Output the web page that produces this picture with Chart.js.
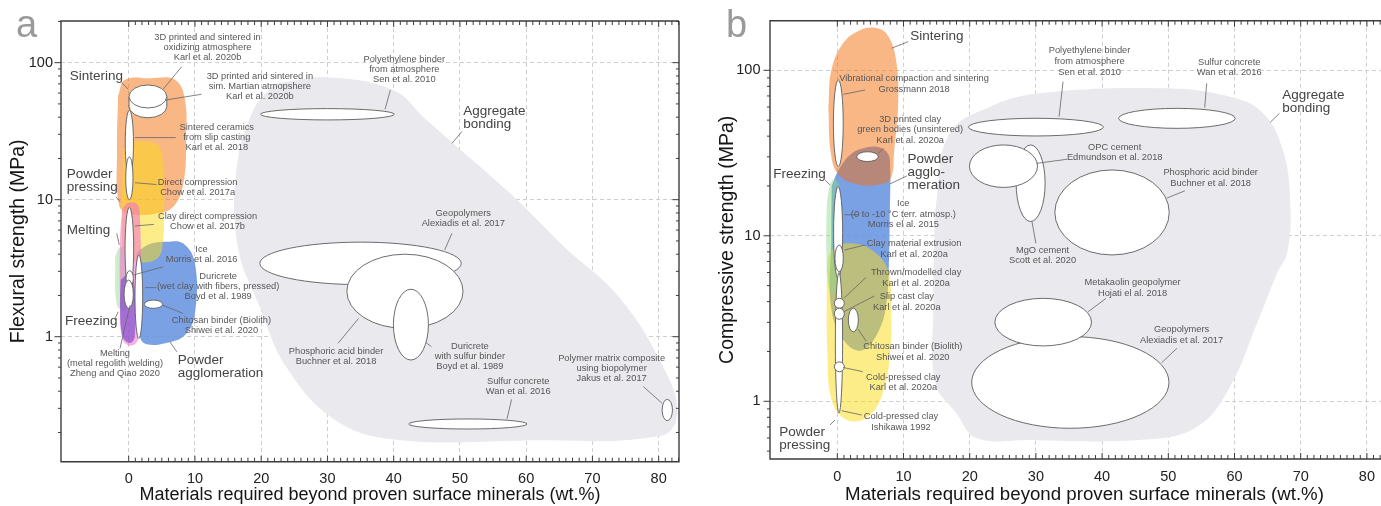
<!DOCTYPE html>
<html>
<head>
<meta charset="utf-8">
<script src="https://cdn.jsdelivr.net/npm/chart.js@4.4.1/dist/chart.umd.min.js"></script>
<style>
  html, body { margin: 0; padding: 0; background: #fff; overflow: hidden; }
  #wrap { position: relative; width: 1381px; height: 506px; overflow: hidden; }
  .box { position: absolute; top: 0; height: 506px; }
  #boxA { left: 0; width: 690px; }
  #boxB { left: 690px; width: 709px; }
  .letter { position: absolute; font-family: "Liberation Sans", Arial, sans-serif; font-size: 38px; line-height: 38px; color: #9a9a9a; }
</style>
</head>
<body>
<div id="wrap">
  <div class="box" id="boxA"><canvas id="chartA"></canvas></div>
  <div class="box" id="boxB"><canvas id="chartB"></canvas></div>
  <div class="letter" style="left:16px;top:5px">a</div>
  <div class="letter" style="left:726px;top:5px">b</div>
</div>
<script>
// 两个面板：(a) 弯曲强度, (b) 抗压强度
const FONT = '"Liberation Sans", Arial, Helvetica, sans-serif';
Chart.defaults.font.family = FONT;
const H = 506;

// 轴刻度
const X_TICKS = [0, 10, 20, 30, 40, 50, 60, 70, 80];
const Y_TICKS = [1, 10, 100];
const X_TITLE = 'Materials required beyond proven surface minerals (wt.%)';

// ---------- (a) 区域轮廓 [wt.%, MPa]
const aAggregate = [[22,70],[30,78],[40,63],[44.5,40],[48.5,27],[58.6,10],[65.6,4.6],[74,1.95],[80.7,0.6],[82.8,0.28],[80.5,0.19],[60,0.175],[40,0.178],[31,0.25],[23.8,0.6],[19.8,1.65],[16.5,4.5],[16.3,17],[18.8,45]];
const aSintering = [[-1.6,57.5],[-0.56,75],[3.2,77],[7,75],[8.5,53.4],[8.65,27],[8.35,14],[7,9.2],[4.7,8.0],[0.2,7.9],[-1.45,9.1],[-1.77,23]];
const aFreezing = [[-2.05,3.82],[-1.3,4.5],[-0.1,4.3],[0.2,2.19],[-0.56,1.57],[-1.77,1.7]];
const aAgglomeration = [[1.2,4.0],[1.7,4.3],[3.5,4.8],[5.7,4.94],[8.2,4.8],[10.0,3.43],[10.0,1.48],[8.5,1.03],[5.7,0.9],[2.7,0.88],[1.7,1.0],[1.2,1.8]];
const aPressing = [[-0.85,23],[0.2,26],[3.2,26.5],[4.7,24],[5.2,16.6],[5.3,8.4],[5.2,5.1],[4.4,3.75],[1.7,3.5],[-0.55,3.95],[-1.0,7.1]];
const aMelting = [[-1.0,8.4],[-0.25,9.4],[1.25,9.3],[1.7,7.7],[1.8,1.85],[1.4,0.95],[0.2,0.86],[-1.0,0.98],[-1.3,1.85],[-1.3,5.1]];
const aWelding = [[-1.2,2.6],[0.2,2.9],[0.9,2.2],[0.9,1.0],[0.2,0.9],[-0.9,1.0],[-1.3,1.6]];

// (a) 椭圆 [中心 wt.%, 半宽 wt.%, 下限 MPa, 上限 MPa]
const aEllipses = [
  [30.0, 10.1, 38.2, 46.2],   // polyethylene binder
  [35.0, 15.2, 2.4, 4.9],     // geopolymers
  [41.7, 8.77, 1.15, 4.0],    // phosphoric acid binder
  [42.6, 2.64, 0.676, 2.22],  // duricrete, sulfur binder
  [51.2, 8.93, 0.212, 0.251], // sulfur concrete
  [81.3, 0.78, 0.244, 0.349], // polymer matrix composite
  [0.1, 0.62, 14.9, 45],      // sintered ceramics
  [0.1, 0.55, 10, 20.5],      // direct compression
  [0.1, 0.65, 2.19, 8.8],     // clay direct compression
  [1.53, 0.58, 0.97, 3.95],   // duricrete wet clay
  [0.15, 0.55, 2.32, 3.03],   // ice
  [0.0, 0.7, 1.61, 2.59],     // metal regolith welding
  [3.74, 1.39, 1.61, 1.85]    // chitosan binder
];
const aDisk = [2.9, 2.85, 46.7, 68.7, 39.6]; // sintered disks (centre, half-width, low, high, rim bottom)

// (a) 注释 [行, wt.%, MPa]
const aNotes = [
  [['3D printed and sintered in','oxidizing atmosphere','Karl et al. 2020b'], 11.9, 152],
  [['3D printed and sintered in','sim. Martian atmopshere','Karl et al. 2020b'], 19.8, 79],
  [['Sintered ceramics','from slip casting','Karl et al. 2018'], 13.3, 33.6],
  [['Direct compression','Chow et al. 2017a'], 10.4, 13.3],
  [['Clay direct compression','Chow et al. 2017b'], 11.9, 7.5],
  [['Ice','Morris et al. 2016'], 11.0, 4.35],
  [['Duricrete','(wet clay with fibers, pressed)','Boyd et al. 1989'], 13.5, 2.74],
  [['Chitosan binder (Biolith)','Shiwei et al. 2020'], 14.0, 1.32],
  [['Melting','(metal regolith welding)','Zheng and Qiao 2020'], -2.07, 0.757],
  [['Polyethylene binder','from atmosphere','Sen et al. 2010'], 41.6, 106],
  [['Geopolymers','Alexiadis et al. 2017'], 50.5, 7.96],
  [['Phosphoric acid binder','Buchner et al. 2018'], 31.3, 0.787],
  [['Duricrete','with sulfur binder','Boyd et al. 1989'], 51.5, 0.845],
  [['Sulfur concrete','Wan et al. 2016'], 58.8, 0.47],
  [['Polymer matrix composite','using biopolymer','Jakus et al. 2017'], 72.9, 0.695]
];
const aNames = [
  [['Sintering'], -8.9, 80],
  [['Powder','pressing'], -9.36, 15.4],
  [['Melting'], -9.36, 6.0],
  [['Freezing'], -9.6, 1.29],
  [['Powder','agglomeration'], 7.4, 0.676],
  [['Aggregate','bonding'], 50.5, 44.4]
];
const aLeaders = [
  [8.0,93.5,5.2,64],[11.0,58.8,5.6,53.4],[-1.06,71.5,-0.06,64],[7.1,28.4,0.95,28.4],
  [-1.92,10.5,-1.31,9.67],[4.2,12.9,0.95,13.3],[3.8,6.6,0.95,6.43],[-1.81,5.69,-1.42,4.67],
  [5.2,3.24,0.7,2.82],[4.2,2.28,2.46,2.28],[8.2,1.48,5.1,1.70],[-2.07,1.36,-1.57,1.52],
  [-1.31,0.823,0.2,1.70],[7.25,0.777,6.2,0.92],[39.5,63.2,38.7,45.7],[50.3,31.4,48.8,25.8],
  [48.8,5.69,47.7,4.3],[31.6,0.895,34.7,1.36],[45.7,0.845,44.9,0.904],[57.8,0.349,57.1,0.251],
  [77.7,0.432,80.5,0.327]
];

// ---------- (b) 区域轮廓
const bAggregate = [[14.5,4.1],[14.6,8],[15.0,16.5],[17.0,41.8],[23.1,60.3],[30.6,72.6],[49.2,77.8],[59.3,69.3],[64.3,55.2],[67.3,33],[68.4,16.5],[68.0,8],[66.4,5.9],[63.4,2.96],[59.3,1.22],[54.3,0.70],[46,0.585],[29,0.584],[21,0.6],[18,0.846],[14.8,1.29]];
const bAgglomeration = [[-0.85,20],[0.2,25],[2,31],[3.9,33.8],[6,34.5],[7.5,32],[7.96,28],[7.9,12],[7.8,7],[7.5,4.2],[6.5,2.8],[4,2.05],[1.5,2.2],[-0.85,3.5],[-0.9,10]];
const bSintering = [[-1.35,60],[-0.9,100],[0.9,146],[3.5,175],[5.8,180],[7.5,165],[8.8,120],[9.2,66],[8.6,33],[8.0,22],[6,20.3],[3,20.5],[0.15,23.5],[-1.0,32]];
const bPressing = [[-1.6,5],[-1.5,2],[-0.8,1.0],[1.5,0.77],[4.5,0.8],[6.8,1.1],[8,2.0],[8.1,4],[7.6,6.3],[5,8.3],[2,9],[0,8.7],[-1.3,7.5]];
const bFreezing = [[-1.6,6],[-1.65,12],[-1.3,19],[-0.5,22],[0.3,20],[0.4,10],[0,5],[-1,4.5]];

const bEllipses = [
  [30.0, 10.2, 40.1, 51.3],   // polyethylene binder
  [51.3, 8.81, 44.6, 58.9],   // sulfur concrete
  [29.2, 2.19, 12.2, 35.4],   // MgO cement
  [25.1, 5.14, 19.6, 35.4],   // OPC cement
  [41.5, 8.64, 7.66, 25],     // phosphoric acid binder
  [35.2, 14.9, 0.687, 2.46],  // geopolymers
  [31.1, 7.3, 2.16, 4.19],    // metakaolin geopolymer
  [0.15, 0.74, 26.2, 87.4],   // vibrational compaction
  [4.56, 1.63, 28.1, 32.2],   // 3D printed green bodies
  [0.12, 0.68, 5.5, 19.8],    // ice
  [0.25, 0.55, 0.85, 6],      // cold-pressed (Ishikawa)
  [0.27, 0.63, 6.07, 8.8],    // clay extrusion
  [0.3, 0.75, 3.65, 4.19],    // thrown/modelled
  [0.3, 0.75, 3.13, 3.65],    // slip cast
  [2.42, 0.76, 2.63, 3.65],   // chitosan binder
  [0.3, 0.75, 1.51, 1.73]     // cold-pressed (Karl)
];

const bNotes = [
  [['Vibrational compaction and sintering','Grossmann 2018'], 11.6, 89.5],
  [['3D printed clay','green bodies (unsintered)','Karl et al. 2020a'], 11.0, 50.8],
  [['Ice','(0 to -10 °C terr. atmosp.)','Morris el al. 2015'], 9.97, 15.7],
  [['Clay material extrusion','Karl et al. 2020a'], 11.6, 9.0],
  [['Thrown/modelled clay','Karl et al. 2020a'], 11.9, 6.02],
  [['Slip cast clay','Karl et al. 2020a'], 10.5, 4.29],
  [['Chitosan binder (Biolith)','Shiwei et al. 2020'], 11.4, 2.14],
  [['Cold-pressed clay','Karl et al. 2020a'], 9.97, 1.40],
  [['Cold-pressed clay','Ishikawa 1992'], 9.62, 0.807],
  [['Polyethylene binder','from atmosphere','Sen et al. 2010'], 38.1, 131],
  [['Sulfur concrete','Wan et al. 2016'], 59.2, 112],
  [['OPC cement','Edmundson et al. 2018'], 41.9, 34.3],
  [['Phosphoric acid binder','Buchner et al. 2018'], 56.4, 24.1],
  [['MgO cement','Scott et al. 2020'], 31.0, 8.2],
  [['Metakaolin geopolymer','Hojati el al. 2018'], 44.6, 5.24],
  [['Geopolymers','Alexiadis et al. 2017'], 52.0, 2.7]
];
const bNames = [
  [['Sintering'], 11.0, 160],
  [['Powder','agglo-','meration'], 10.6, 29],
  [['Freezing'], -9.67, 23.6],
  [['Powder','pressing'], -8.76, 0.65],
  [['Aggregate','bonding'], 67.2, 70.6]
];
const bLeaders = [
  [10.7,149,8.2,136],[4.2,76,0.9,71.6],[6.95,33.8,6.2,31.5],[10.5,23,7.96,20.6],
  [-1.86,21.7,-1.1,20.3],[3.32,13.4,1.06,13.4],[4.2,8.8,1.06,8.2],[4.34,5.61,1.0,4.19],
  [5.6,4.33,1.0,3.48],[4.34,2.31,3.17,2.72],[3.84,1.51,0.9,1.6],[3.69,0.826,0.66,0.877],
  [-1.1,0.719,-0.35,0.771],[34.1,85.3,33.5,52.5],[55.8,83.4,55.5,59.4],[66.8,55,65.4,48.5],
  [34.7,29,30.1,27.4],[52.5,18.7,49.8,16.9],[30.0,9.0,29.4,12.2],[40.6,4.19,37.9,3.48],
  [51.3,2.09,49.0,1.71]
];

// 颜色
const COLORS = {
  aggregate: '#e9e9ee',
  sintering: 'rgba(243,112,13,0.5)',
  pressing: 'rgba(252,220,20,0.5)',
  agglomeration: 'rgba(100,145,225,0.85)',
  freezing: 'rgba(140,215,130,0.45)',
  melting: 'rgba(240,110,205,0.55)',
  welding: 'rgba(120,75,205,0.65)'
};

const panelA = {
  id: 'chartA', w: 690, area: { left: 61, top: 21, right: 679, bottom: 461.7 },
  x: [-10.22, 83.07], y: [0.1224, 201.4],
  yTitle: 'Flexural strength (MPa)', yTitlePad: 7.3, yTickPad: 8, xTitleSize: 18, rightAxis: true,
  regions: [[aAggregate,'aggregate'],[aSintering,'sintering'],[aFreezing,'freezing'],[aAgglomeration,'agglomeration'],[aPressing,'pressing'],[aMelting,'melting'],[aWelding,'welding']],
  ellipses: aEllipses, disk: aDisk, notes: aNotes, names: aNames, leaders: aLeaders, noteGap: 10, nameGap: 13.3
};
const panelB = {
  id: 'chartB', w: 709, area: { left: 80, top: 20.7, right: 709, bottom: 459 },
  x: [-10.17, 84.85], y: [0.448, 199.4],
  yTitle: 'Compressive strength (MPa)', yTitlePad: 25.8, yTickPad: 9.5, xTitleSize: 18.7, rightAxis: false,
  regions: [[bAggregate,'aggregate'],[bAgglomeration,'agglomeration'],[bSintering,'sintering'],[bPressing,'pressing'],[bFreezing,'freezing']],
  ellipses: bEllipses, disk: null, notes: bNotes, names: bNames, leaders: bLeaders, noteGap: 10.7, nameGap: 12.9
};

// 椭圆、引线、文字和坐标框 (内部插件)
function overlayPlugin(p) {
  return {
    id: 'overlay',
    afterDatasetsDraw(chart) {
      const { ctx, scales: { x, y } } = chart;
      const X = v => x.getPixelForValue(v);
      const Y = v => y.getPixelForValue(v);
      ctx.save();
      ctx.lineWidth = 0.9;
      ctx.strokeStyle = '#5c5c5c';
      ctx.fillStyle = '#fff';
      p.ellipses.forEach(([cx, rx, lo, hi]) => {
        const px = X(cx), r = Math.abs(X(cx + rx) - px), t = Y(hi), b = Y(lo);
        ctx.beginPath();
        ctx.ellipse(px, (t + b) / 2, r, Math.abs(b - t) / 2, 0, 0, 2 * Math.PI);
        ctx.fill(); ctx.stroke();
      });
      if (p.disk) {
        const [cx, rx, lo, hi, base] = p.disk;
        const px = X(cx), r = X(cx + rx) - px, t = Y(hi), b = Y(lo);
        const cy = (t + b) / 2, ry = (b - t) / 2, d = Y(base) - b;
        ctx.beginPath(); ctx.ellipse(px, cy + d, r, ry, 0, 0, 2 * Math.PI); ctx.fill(); ctx.stroke();
        ctx.fillRect(px - r, cy, 2 * r, d);
        ctx.beginPath();
        ctx.moveTo(px - r, cy); ctx.lineTo(px - r, cy + d);
        ctx.moveTo(px + r, cy); ctx.lineTo(px + r, cy + d);
        ctx.stroke();
        ctx.beginPath(); ctx.ellipse(px, cy, r, ry, 0, 0, 2 * Math.PI); ctx.fill(); ctx.stroke();
      }
      // 引线
      ctx.strokeStyle = '#666';
      ctx.lineWidth = 0.8;
      ctx.beginPath();
      p.leaders.forEach(([x1, y1, x2, y2]) => { ctx.moveTo(X(x1), Y(y1)); ctx.lineTo(X(x2), Y(y2)); });
      ctx.stroke();
      // 文字
      ctx.textBaseline = 'middle';
      ctx.font = '9.3px ' + FONT;
      ctx.fillStyle = '#575757';
      ctx.textAlign = 'center';
      p.notes.forEach(([lines, vx, vy]) => lines.forEach((s, i) => ctx.fillText(s, X(vx), Y(vy) + i * p.noteGap)));
      ctx.font = '13.5px ' + FONT;
      ctx.fillStyle = '#444';
      ctx.textAlign = 'left';
      p.names.forEach(([lines, vx, vy]) => lines.forEach((s, i) => ctx.fillText(s, X(vx), Y(vy) + i * p.nameGap)));
      ctx.restore();
    },
    afterDraw(chart) {
      const { ctx, chartArea: a, scales: { x, y } } = chart;
      ctx.save();
      ctx.strokeStyle = '#3c3c3c';
      ctx.lineWidth = 1;
      ctx.beginPath();
      for (let v = 0; v <= Math.floor(x.max); v++) {
        const px = x.getPixelForValue(v), L = v % 10 ? 4 : 6;
        ctx.moveTo(px, a.top); ctx.lineTo(px, a.top + L);
        ctx.moveTo(px, a.bottom); ctx.lineTo(px, a.bottom - L);
      }
      for (let e = -1; e <= 2; e++) {
        for (let m = 1; m <= 9; m++) {
          const v = m * Math.pow(10, e);
          if (v < y.min || v > y.max) continue;
          const py = y.getPixelForValue(v), L = m === 1 ? 6.5 : 3;
          ctx.moveTo(a.left, py); ctx.lineTo(a.left - L, py);
          if (p.rightAxis) { ctx.moveTo(a.right, py); ctx.lineTo(a.right - L, py); }
        }
      }
      ctx.stroke();
      ctx.lineWidth = 1.4;
      ctx.beginPath();
      ctx.moveTo(a.right, a.top); ctx.lineTo(a.left, a.top); ctx.lineTo(a.left, a.bottom); ctx.lineTo(a.right, a.bottom);
      if (p.rightAxis) ctx.lineTo(a.right, a.top);
      ctx.stroke();
      ctx.restore();
    }
  };
}

function makeChart(p) {
  const canvas = document.getElementById(p.id);
  canvas.width = p.w;
  canvas.height = H;
  const n = p.regions.length;
  const datasets = p.regions.map(([pts, key], i) => ({
    data: pts.concat([pts[0]]).map(([vx, vy]) => ({ x: vx, y: vy })),
    showLine: true, fill: 'shape', backgroundColor: COLORS[key],
    borderColor: 'transparent', borderWidth: 0, pointRadius: 0, tension: 0.4, order: n - i
  }));
  const grid = { color: '#cfcfcf', lineWidth: 1, drawTicks: false };
  const border = { display: false, dash: [4, 3] };
  return new Chart(canvas, {
    type: 'scatter',
    data: { datasets },
    options: {
      responsive: false, animation: false, events: [],
      layout: { padding: { left: 0, top: p.area.top, right: p.w - p.area.right, bottom: 0 } },
      plugins: { legend: { display: false }, tooltip: { enabled: false } },
      scales: {
        x: {
          type: 'linear', min: p.x[0], max: p.x[1],
          afterBuildTicks: s => { s.ticks = X_TICKS.map(value => ({ value })); },
          afterFit: s => { s.height = H - p.area.bottom; },
          grid, border,
          ticks: { color: '#222', font: { size: 14.5 }, padding: 9, maxRotation: 0, autoSkip: false, callback: v => String(v) },
          title: { display: true, text: X_TITLE, color: '#151515', font: { size: p.xTitleSize }, padding: 0 }
        },
        y: {
          type: 'logarithmic', min: p.y[0], max: p.y[1],
          afterBuildTicks: s => { s.ticks = Y_TICKS.map(value => ({ value })); },
          afterFit: s => { s.width = p.area.left; },
          grid, border,
          ticks: { color: '#222', font: { size: 14.5 }, padding: p.yTickPad, autoSkip: false, callback: v => String(v) },
          title: { display: true, text: p.yTitle, color: '#151515', font: { size: 19.5 }, padding: { top: p.yTitlePad, bottom: 0 } }
        }
      }
    },
    plugins: [overlayPlugin(p)]
  });
}

makeChart(panelA);
makeChart(panelB);
</script>
</body>
</html>
